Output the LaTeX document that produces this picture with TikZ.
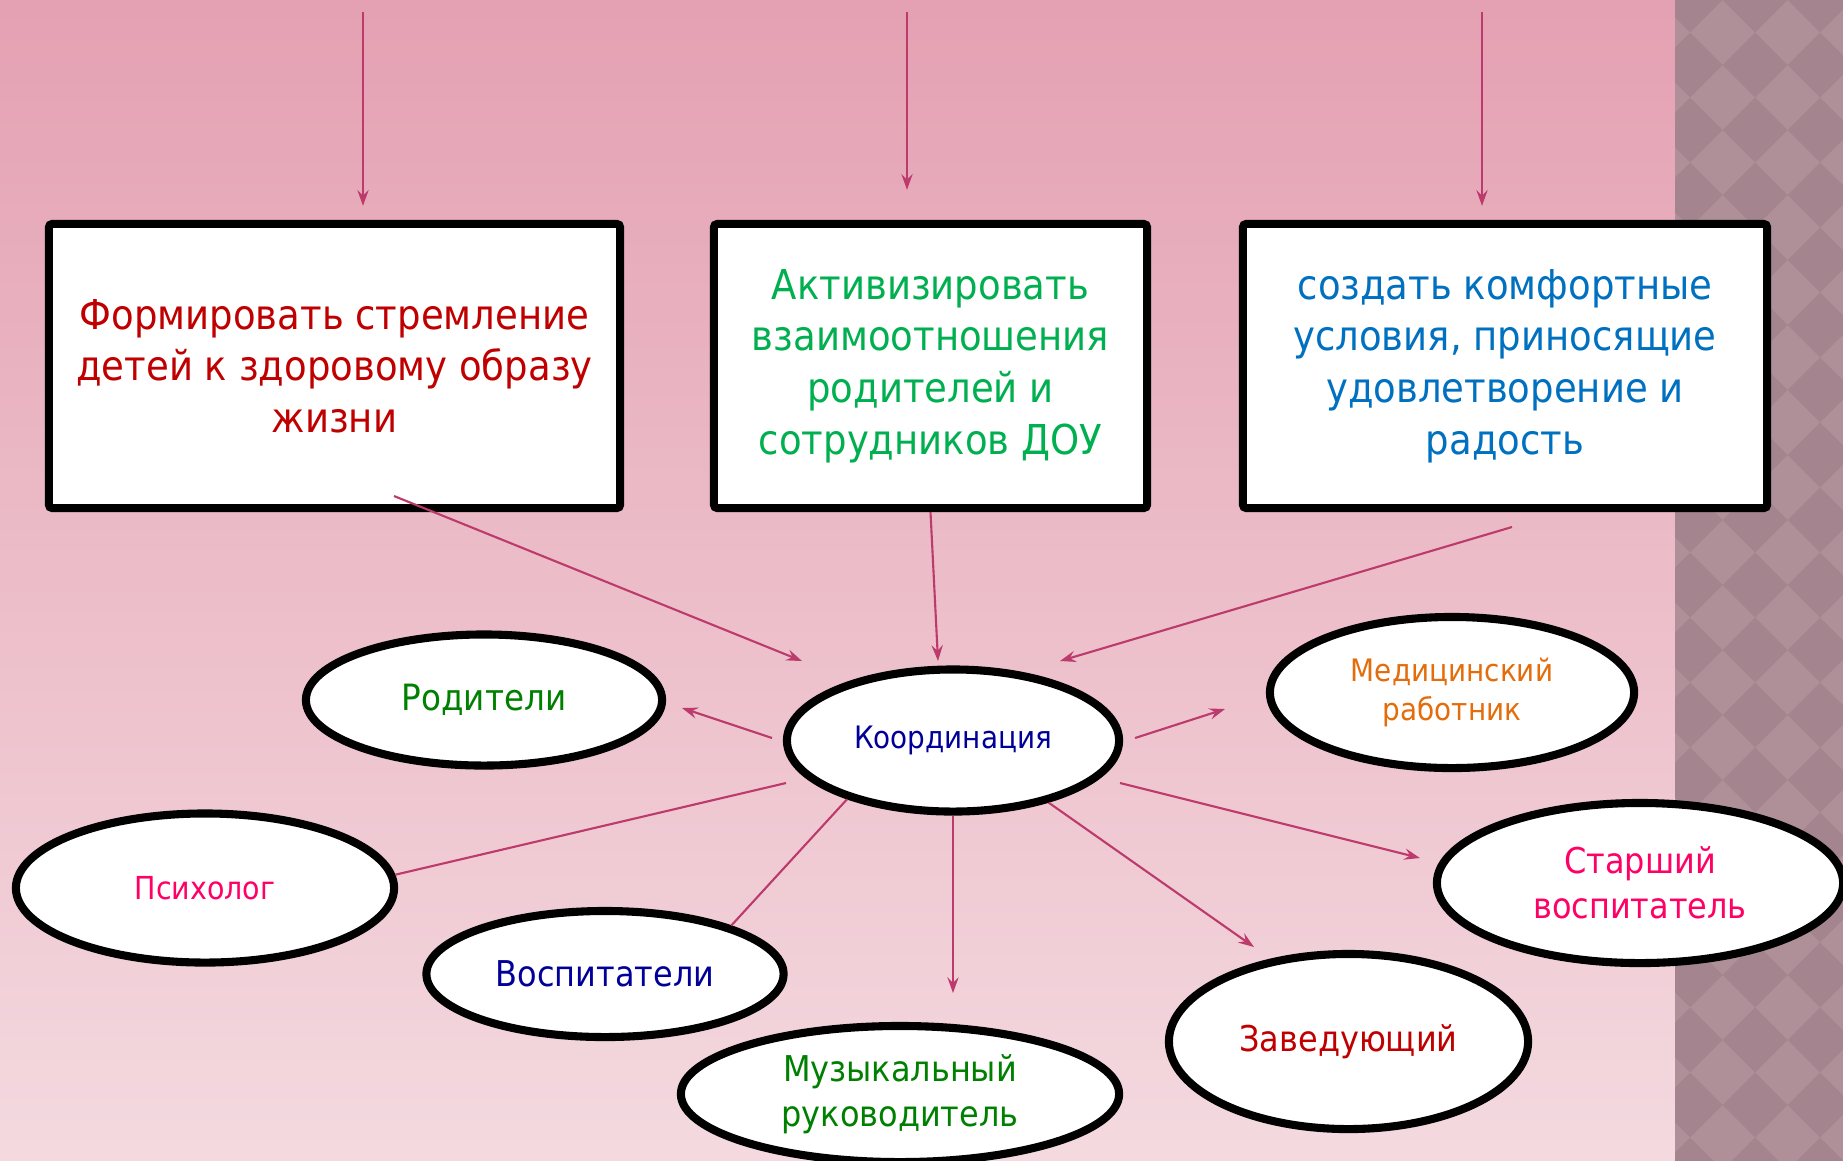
\documentclass[tikz,border=0pt]{standalone}
\usepackage{fontspec}
\setmainfont{DejaVu Sans}[FakeStretch=0.9]
\usetikzlibrary{arrows.meta,shapes.geometric}
\definecolor{bgtop}{HTML}{E4A0B2}
\definecolor{bgbot}{HTML}{F4DAE0}
\definecolor{strip}{HTML}{AF9099}
\definecolor{stripdk}{HTML}{A4848E}
\definecolor{wine}{HTML}{BC3A6C}
\definecolor{darkred}{HTML}{C00000}
\definecolor{brightgreen}{HTML}{00B050}
\definecolor{steelblue}{HTML}{0070C0}
\definecolor{navy}{HTML}{000099}
\definecolor{leaf}{HTML}{008000}
\definecolor{amber}{HTML}{E46C0A}
\definecolor{rose}{HTML}{FF0066}

\begin{document}
\begin{tikzpicture}[
  x=0.01cm, y=-0.01cm, >={Stealth[length=4.5pt,width=3.2pt,inset=1.6pt]},
  goal/.style={draw=black, line width=2.3pt, fill=white, rounded corners=1pt, align=center,
    inner sep=0pt, minimum height=2.84cm, font=\fontsize{11.7}{14.7}\selectfont},
  role/.style={ellipse, draw=black, line width=2.3pt, fill=white, align=center, inner sep=0pt},
  big/.style={font=\fontsize{10.1}{12.8}\selectfont},
  small/.style={font=\fontsize{8.8}{11}\selectfont},
  arr/.style={->, draw=wine, line width=0.6pt},
  link/.style={draw=wine, line width=0.6pt}]
\useasboundingbox (0,0) rectangle (1843,1160);

% background: gradient and patterned strip
\shade[top color=bgtop, bottom color=bgbot] (-10,-10) rectangle (1675,1170);
\begin{scope}
  \clip (1675,-10) rectangle (1853,1170);
  \fill[strip] (1675,-10) rectangle (1853,1170);
  \foreach \i in {0,...,3}
    \foreach \j in {0,...,18}
      \fill[stripdk] (1690+65*\i,65*\j-32.5) -- (1722.5+65*\i,65*\j)
        -- (1690+65*\i,65*\j+32.5) -- (1657.5+65*\i,65*\j) -- cycle;
\end{scope}

% row 1: goals
\node[goal, minimum width=5.71cm, text=darkred] (goal1) at (334.5,366)
  {Формировать стремление\\детей к здоровому образу\\жизни};
\node[goal, minimum width=4.33cm, text=brightgreen] (goal2) at (930.5,366)
  {Активизировать\\взаимоотношения\\родителей и\\сотрудников ДОУ};
\node[goal, minimum width=5.24cm, text=steelblue] (goal3) at (1505,366)
  {создать комфортные\\условия, приносящие\\удовлетворение и\\радость};

\coordinate (in1) at (363,12);
\coordinate (in2) at (907,12);
\coordinate (in3) at (1482,12);
\draw[arr, shorten >=0.14cm] (in1) -- (in1 |- goal1.north);
\draw[arr, shorten >=0.30cm] (in2) -- (in2 |- goal2.north);
\draw[arr, shorten >=0.14cm] (in3) -- (in3 |- goal3.north);

% centre and roles
\node[role, small, text=navy, minimum width=3.32cm, minimum height=1.42cm] (koord) at (953,740.5) {Координация};
\node[role, font=\fontsize{10.3}{12.8}\selectfont, text=leaf, minimum width=3.56cm, minimum height=1.31cm] (rodit) at (484,700) {Родители};
\node[role, small, text=amber, minimum width=3.64cm, minimum height=1.51cm] (medic) at (1452,692.5) {Медицинский\\работник};
\node[role, text=rose, font=\fontsize{9}{11}\selectfont, minimum width=3.78cm, minimum height=1.49cm] (psych) at (205,888) {Психолог};
\node[role, big, text=navy, minimum width=3.57cm, minimum height=1.26cm] (vosp) at (605,974) {Воспитатели};
\node[role, big, text=leaf, minimum width=4.38cm, minimum height=1.36cm] (music) at (900,1094) {Музыкальный\\руководитель};
\node[role, big, text=darkred, minimum width=3.59cm, minimum height=1.75cm] (zaved) at (1348.5,1041.5) {Заведующий};
\node[role, big, text=rose, minimum width=4.06cm, minimum height=1.6cm] (senior) at (1640,883) {Старший\\воспитатель};

% goals to coordination
\coordinate (g1) at (394,496);
\coordinate (g3) at (1512,527);
\coordinate (k1) at (802,661);
\coordinate (k2) at (938,661);
\coordinate (k3) at (1060,661);
\draw[arr] (g1) -- (k1);
\draw[arr] (goal2.south) -- (k2);
\draw[arr] (g3) -- (k3);

% coordination to roles
\coordinate (r4a) at (772,738);   \coordinate (r4b) at (682,708);
\coordinate (r5a) at (1135,738);  \coordinate (r5b) at (1225,709);
\coordinate (r6a) at (786,783);
\coordinate (r8b) at (953,993);
\coordinate (r9b) at (1254,947);
\coordinate (r10a) at (1120,783); \coordinate (r10b) at (1420,858);
\draw[arr] (r4a) -- (r4b);
\draw[arr] (r5a) -- (r5b);
\draw[link] (r6a) -- (psych.4);
\draw[link] (koord.209) -- (vosp.21);
\draw[arr] (koord.south) -- (r8b);
\draw[arr] (koord.-33) -- (r9b);
\draw[arr] (r10a) -- (r10b);
\end{tikzpicture}
\end{document}
